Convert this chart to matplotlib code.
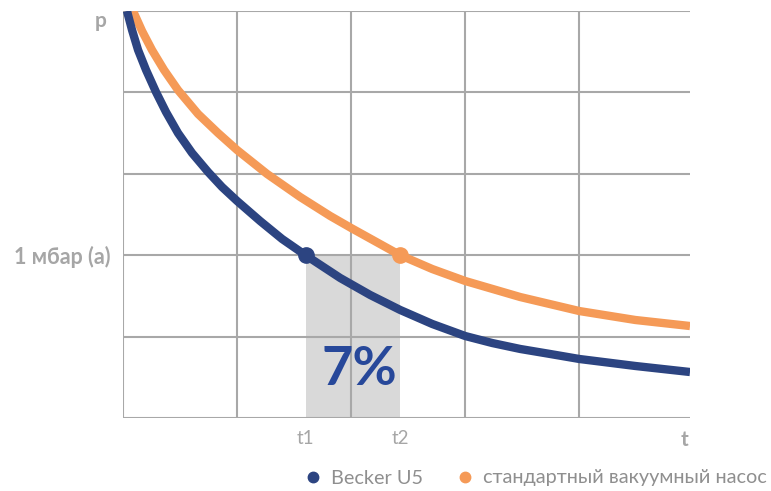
import matplotlib.pyplot as plt
from matplotlib.lines import Line2D

plt.rcParams['font.family'] = ['Lato', 'DejaVu Sans']

# curves (x and y in grid cells)
becker_t = [0.035, 0.079, 0.132, 0.202, 0.289, 0.377, 0.482, 0.605, 0.746, 0.868, 1.0,
            1.202, 1.395, 1.6, 1.904, 2.167, 2.43, 2.711, 3.0, 3.237, 3.482, 3.746, 4.0, 4.491, 4.97]
becker_p = [5.0, 4.767, 4.521, 4.275, 4.005, 3.759, 3.501, 3.256, 3.022, 2.838, 2.666,
            2.420, 2.199, 2.0, 1.720, 1.511, 1.327, 1.155, 1.007, 0.921, 0.848, 0.786, 0.725, 0.639, 0.565]

std_t = [0.088, 0.167, 0.254, 0.360, 0.482, 0.658, 0.833, 1.0, 1.263, 1.553, 1.816, 2.0,
         2.43, 2.711, 3.0, 3.482, 4.0, 4.491, 4.97]
std_p = [5.0, 4.754, 4.521, 4.275, 4.029, 3.735, 3.501, 3.292, 2.998, 2.715, 2.482, 2.334,
         2.0, 1.830, 1.683, 1.486, 1.314, 1.204, 1.130]

# points where each curve hits 1 mbar
t1, t2 = 1.6, 2.43
p_level = 2.0
x_ticks = [t1, t2]
x_labels = ['t1', 't2']
y_ticks = [p_level]
y_labels = ['1 мбар (а)']
percent = '7%'
series_names = ['Becker U5', 'стандартный вакуумный насос']

blue = '#2c4481'
orange = '#f59a57'
grey = '#a6a6a6'
gridc = '#a8a8a8'

fig = plt.figure(figsize=(7.71, 4.91), dpi=100)
ax = fig.add_axes([123 / 771, 73 / 491, 567 / 771, 407 / 491])
ax.set_xlim(0, 4.97)
ax.set_ylim(0, 5)
for s in ax.spines.values():
    s.set_visible(False)

# grey band between t1 and t2
ax.fill_between([t1, t2], 0, p_level, color='#d9d9d9', lw=0, zorder=1)

# grid
for gx in range(5):
    ax.axvline(gx, color=gridc, lw=1.5, zorder=2)
for gy in range(6):
    ax.axhline(gy, color=gridc, lw=1.5, zorder=2)

ax.plot(std_t, std_p, color=orange, lw=6, solid_capstyle='butt', solid_joinstyle='round', zorder=3)
ax.plot(becker_t, becker_p, color=blue, lw=6, solid_capstyle='butt', solid_joinstyle='round', zorder=4)
ax.plot([t1], [p_level], 'o', color=blue, ms=11, zorder=5)
ax.plot([t2], [p_level], 'o', color=orange, ms=11, zorder=5)

ax.text(2.07, 0.60, percent, color='#27489a', fontsize=39, fontweight='bold',
        ha='center', va='center', zorder=6)

ax.set_xticks(x_ticks)
ax.set_xticklabels(x_labels, color=grey, fontsize=13.5)
ax.set_yticks(y_ticks)
ax.set_yticklabels(y_labels, color=grey, fontsize=15.5, fontweight='bold')
ax.tick_params(length=0)
ax.tick_params(axis='x', pad=9)
ax.tick_params(axis='y', pad=9)

ax.text(-0.14, 4.80, 'p', color=grey, fontsize=15, fontweight='bold', ha='right', va='baseline')
ax.text(4.92, -0.27, 't', color=grey, fontsize=15, fontweight='bold', ha='center', va='center')

handles = [Line2D([], [], ls='none', marker='o', color=blue, ms=7.5),
           Line2D([], [], ls='none', marker='o', color=orange, ms=7.5)]
leg = fig.legend(handles, series_names, loc='center', bbox_to_anchor=(535 / 771, 1 - 478 / 491),
                 ncol=2, frameon=False, fontsize=14.3, handletextpad=0.38, columnspacing=1.65,
                 handlelength=1.0, borderpad=0, borderaxespad=0)
for txt in leg.get_texts():
    txt.set_color('#8f8f8f')

fig.savefig('out.png', dpi=100)
